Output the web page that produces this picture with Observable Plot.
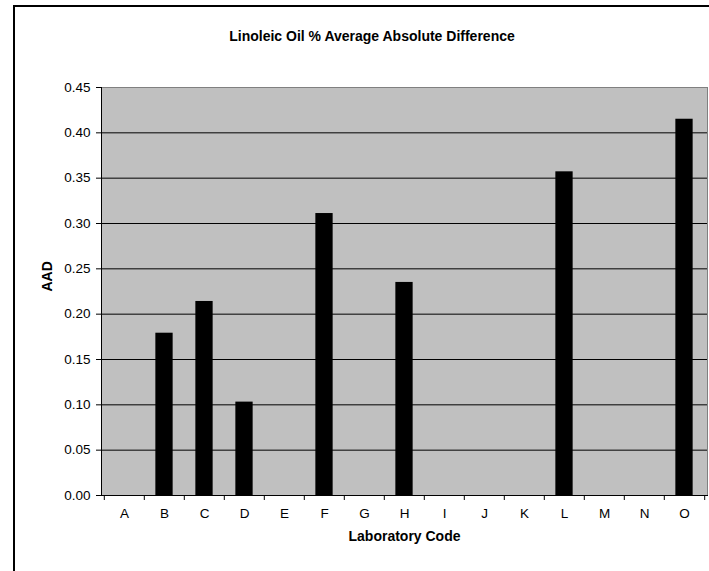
<!DOCTYPE html>
<html>
<head>
<meta charset="utf-8">
<script src="https://cdn.jsdelivr.net/npm/d3@7"></script>
<script src="https://cdn.jsdelivr.net/npm/@observablehq/plot@0.6"></script>
<style>
  html, body { margin: 0; padding: 0; background: #fff; overflow: hidden; }
  body { width: 709px; height: 571px; position: relative; font-family: "Liberation Sans", Arial, sans-serif; }
  #frame { position: absolute; left: 13px; top: 5px; width: 800px; height: 700px; border-left: 2px solid #000; border-top: 2px solid #000; }
  #title { position: absolute; left: 0; width: 744px; top: 28px; line-height: 16px; text-align: center; font-weight: bold; font-size: 14px; color: #000; }
  #chart { position: absolute; left: 0; top: 0; }
</style>
</head>
<body>
<div id="frame"></div>
<div id="title">Linoleic Oil % Average Absolute Difference</div>
<div id="chart"></div>
<script>
const labs = ["A","B","C","D","E","F","G","H","I","J","K","L","M","N","O"];
const aad  = [0, 0.179, 0.214, 0.103, 0, 0.311, 0, 0.235, 0, 0, 0, 0.357, 0, 0, 0.415];
const yTicks = [0, 0.05, 0.10, 0.15, 0.20, 0.25, 0.30, 0.35, 0.40, 0.45];
const gridTicks = [0.05, 0.10, 0.15, 0.20, 0.25, 0.30, 0.35, 0.40];

const data = labs.map((l, i) => ({lab: l, v: aad[i]}));
const W = 709, H = 571, mL = 101, mR = 2, mT = 87, mB = 76;
const bw = (W - mL - mR) / labs.length;
const barInset = (bw - 17.7) / 2;

const chart = Plot.plot({
  width: W, height: H,
  marginLeft: mL, marginRight: mR, marginTop: mT, marginBottom: mB,
  style: {fontFamily: "'Liberation Sans', Arial, sans-serif", fontSize: "13.5px", color: "#000", background: "transparent"},
  x: {domain: labs, padding: 0, label: null},
  y: {domain: [0, 0.45], label: null},
  marks: [
    Plot.frame({fill: "#c0c0c0", stroke: "#808080"}),
    Plot.ruleY(gridTicks, {stroke: "#000", strokeWidth: 1}),
    Plot.barY(data.filter(d => d.v > 0), {x: "lab", y: "v", fill: "#000", insetLeft: barInset, insetRight: barInset}),
    Plot.frame({anchor: "left", stroke: "#000"}),
    Plot.frame({anchor: "bottom", stroke: "#000"}),
    Plot.axisY({ticks: yTicks, tickFormat: d3.format(".2f"), tickSize: 5, tickPadding: 6, fontSize: 13.5, label: null}),
    Plot.axisX({tickSize: 0, tickPadding: 13, fontSize: 13.5, label: null}),
    Plot.ruleX(labs, {x: d => d, y1: 0, y2: 0, dx: -bw / 2, insetBottom: -5, stroke: "#000"}),
    Plot.ruleX([labs[labs.length - 1]], {x: d => d, y1: 0, y2: 0, dx: bw / 2, insetBottom: -5, stroke: "#000"}),
    Plot.text(["AAD"], {frameAnchor: "left", dx: -53.5, rotate: -90, fontWeight: "bold", fontSize: 14, text: d => d}),
    Plot.text(["Laboratory Code"], {frameAnchor: "bottom", dy: 45, fontWeight: "bold", fontSize: 14, text: d => d})
  ]
});
document.getElementById("chart").appendChild(chart);
</script>
</body>
</html>
